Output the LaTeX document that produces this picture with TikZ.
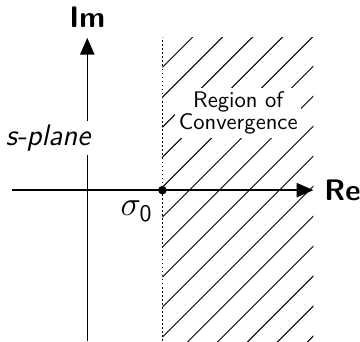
\documentclass[tikz,border=0pt]{standalone}
\usepackage{tikz}
\usetikzlibrary{arrows.meta,positioning,calc}
\tikzset{
  axe/.style={-{Triangle[length=7pt,width=6pt]}, line width=0.6pt},
  hach/.style={line width=0.4pt},
  etiq/.style={font=\sffamily\bfseries\fontsize{12.5}{14}\selectfont},
  lbl/.style={font=\sffamily\fontsize{12.5}{14}\selectfont},
  roc/.style={fill=white, inner sep=1.5pt, align=center,
              font=\sffamily\fontsize{9.5}{9.2}\selectfont},
}
\begin{document}
\begin{tikzpicture}
  \useasboundingbox (-1.29,-2.23) rectangle (4.03,2.81);
  \coordinate (xg) at (-1.12,0);
  \coordinate (xd) at (3.34,0);
  \coordinate (yb) at (0,-2.23);
  \coordinate (yh) at (0,2.25);
  \coordinate (s0) at (1.11,0);
  % hachures de la region
  \begin{scope}
    \clip (1.11,-2.23) rectangle (3.34,2.25);
    \foreach \k in {-13,...,3}
      \draw[hach] (1.11,{0.93+0.443*\k}) -- ++(2.3,2.3);
  \end{scope}
  \draw[line width=0.7pt, dash pattern=on 0.7pt off 1pt] (s0 |- yb) -- (s0 |- yh);
  % axes
  \draw[axe] (xg) -- (xd);
  \draw[axe] (yb) -- (yh);
  \fill (s0) circle (1.8pt);
  \node[etiq, right=0.4mm of xd] (re) {Re};
  \node[etiq, above=0.3mm of yh] (im) {Im};
  \node[lbl, fill=white, inner sep=1.5pt] (plan) at (-0.58,0.77) {\itshape s-plane};
  \node[lbl, font=\fontsize{14}{16}\selectfont] (sig) at (0.73,-0.31) {$\sigma_{\mathsf{0}}$};
  \node[roc] (reg) at (2.23,1.14) {Region of\\Convergence};
\end{tikzpicture}
\end{document}
